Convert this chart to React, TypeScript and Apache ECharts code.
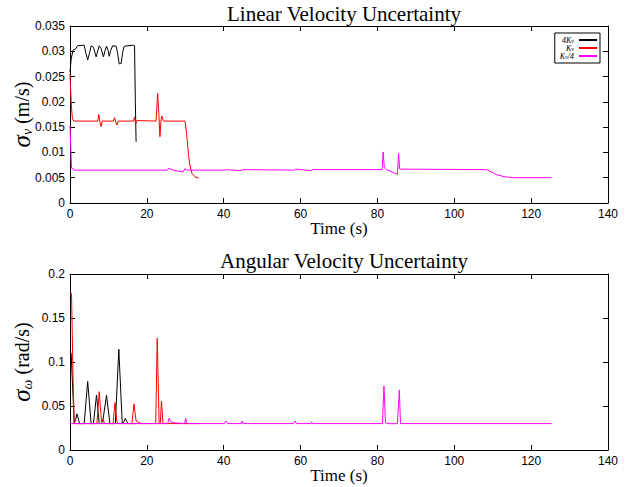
import React, { useEffect, useRef } from "react";
import * as echarts from "echarts";

const titles = ["Linear Velocity Uncertainty", "Angular Velocity Uncertainty"];
const seriesNames = ["4Kv", "Kv", "Kv/4"];
const seriesColors = ["#000000", "#ff0000", "#ff00ff"];

// Linear velocity uncertainty [time (s), sigma_v (m/s)]
const linBlack: number[][] = [
  [0, 0.0258], [0.3, 0.0285], [0.8, 0.0302], [1.5, 0.0305], [2.0, 0.0311], [3.7, 0.0312],
  [4.1, 0.0297], [4.6, 0.0283], [5.1, 0.0297], [5.5, 0.0311], [6.1, 0.0308], [6.8, 0.0289],
  [7.3, 0.0303], [7.6, 0.0311], [8.1, 0.0305], [8.7, 0.0289], [9.1, 0.0301], [9.5, 0.031],
  [9.9, 0.0302], [10.2, 0.029], [10.6, 0.0302], [11.1, 0.0311], [12.0, 0.031], [12.4, 0.0296],
  [12.8, 0.0275], [13.3, 0.0276], [13.7, 0.0298], [14.1, 0.031], [16.3, 0.0312], [16.8, 0.0311],
  [17.0, 0.02], [17.2, 0.0121],
];
const linRed: number[][] = [
  [0, 0.0255], [0.3, 0.02], [0.6, 0.0168], [1, 0.0162], [7.2, 0.0162], [7.5, 0.0175],
  [7.8, 0.016], [8.1, 0.0151], [8.4, 0.0162], [11.3, 0.0162], [11.6, 0.0169], [11.9, 0.016],
  [12.2, 0.0154], [12.5, 0.0162], [16.5, 0.0162], [16.8, 0.017], [17.1, 0.0156], [17.4, 0.0163],
  [22.4, 0.0162], [22.8, 0.0217], [23.1, 0.018], [23.4, 0.0131], [23.7, 0.0165], [23.9, 0.0172],
  [24.3, 0.0162], [29.9, 0.0162], [30.3, 0.014], [30.8, 0.0098], [31.2, 0.0075], [31.7, 0.0059],
  [32.5, 0.0052], [33.5, 0.0049],
];
const linMagenta: number[][] = [
  [0, 0.0152], [0.2, 0.011], [0.4, 0.0068], [0.7, 0.0069], [1, 0.0065], [25.3, 0.0065],
  [25.7, 0.0069], [26.3, 0.0066], [29.4, 0.0061], [29.9, 0.0068], [30.4, 0.0065], [40.3, 0.0065],
  [40.7, 0.0066], [44.5, 0.0064], [44.8, 0.0066], [58.4, 0.0065], [58.7, 0.0067], [62.8, 0.0064],
  [63.0, 0.0066], [81.2, 0.0066], [81.5, 0.0101], [81.8, 0.007], [82.3, 0.0066], [85.2, 0.0057],
  [85.5, 0.0098], [85.8, 0.0067], [108.4, 0.0066], [109.5, 0.0062], [111, 0.0056], [113, 0.0052],
  [115.5, 0.005], [125.3, 0.005],
];

// Angular velocity uncertainty [time (s), sigma_w (rad/s)]
const angBlack: number[][] = [
  [0, 0.112], [0.3, 0.11], [0.7, 0.07], [1.1, 0.03], [1.5, 0.035], [1.8, 0.041], [2.2, 0.035],
  [2.5, 0.03], [3.7, 0.03], [4.6, 0.078], [5.5, 0.03], [6.1, 0.03], [6.9, 0.0625], [7.6, 0.03],
  [8.2, 0.03], [8.6, 0.035], [9.5, 0.062], [10.4, 0.03], [11.8, 0.03], [12.7, 0.1145], [13.6, 0.03],
  [14.0, 0.032], [14.4, 0.036], [14.8, 0.032], [15.2, 0.03], [17.2, 0.03],
];
const angRed: number[][] = [
  [0, 0.178], [0.4, 0.178], [0.8, 0.08], [1.1, 0.03], [7.0, 0.03], [7.6, 0.0663], [8.2, 0.032],
  [8.6, 0.035], [9.0, 0.03], [11.2, 0.03], [11.7, 0.0538], [12.2, 0.032], [12.6, 0.03], [16.1, 0.03],
  [16.65, 0.0523], [17.2, 0.033], [18, 0.031], [18.5, 0.03], [22.3, 0.03], [22.7, 0.127], [23.2, 0.03],
  [23.5, 0.03], [23.8, 0.0557], [24.2, 0.03], [33.6, 0.03],
];
const angMagenta: number[][] = [
  [0, 0.031], [0.4, 0.03], [25.4, 0.03], [25.8, 0.036], [26.3, 0.032], [27, 0.031], [29.8, 0.03],
  [30.1, 0.036], [30.4, 0.03], [40.2, 0.03], [40.6, 0.033], [41, 0.03], [44.6, 0.03], [44.8, 0.033],
  [45, 0.03], [58.2, 0.03], [58.6, 0.033], [59, 0.03], [62.7, 0.03], [62.9, 0.032], [63.1, 0.03],
  [81.3, 0.03], [81.7, 0.0727], [82.1, 0.031], [83, 0.0299], [85.2, 0.0299], [85.7, 0.0682],
  [86.0, 0.03], [125.3, 0.03],
];

const xRange = { min: 0, max: 140, interval: 20 };
const yRangeLin = { min: 0, max: 0.035, interval: 0.005 };
const yRangeAng = { min: 0, max: 0.2, interval: 0.05 };
const xName = "Time (s)";
const yNameLin = "{g|σ}{s|v} (m/s)";
const yNameAng = "{g|σ}{s|ω} (rad/s)";
const legendLabels: Record<string, string> = {
  "4Kv": "{i|4K}{s|v}",
  Kv: "{i|K}{s|v}",
  "Kv/4": "{i|K}{s|v}{i|/4}",
};

const SERIF = "'Liberation Serif', 'DejaVu Serif', serif";
const SANS = "'Liberation Sans', Arial, sans-serif";

export default function App() {
  const ref = useRef<HTMLDivElement>(null);
  useEffect(() => {
    if (!ref.current) return;
    const chart = echarts.init(ref.current, undefined, { renderer: "svg" });
    const grids = [
      { left: 70, width: 538, top: 26, height: 177, containLabel: false, outerBoundsMode: "none" },
      { left: 70, width: 538, top: 274, height: 176, containLabel: false, outerBoundsMode: "none" },
    ];
    const tick = { show: true, inside: true, length: 5, lineStyle: { color: "#000", width: 1 } };
    const axisLine = { show: true, onZero: false, lineStyle: { color: "#000", width: 1 } };
    const xAxes: any[] = [];
    const yAxes: any[] = [];
    [0, 1].forEach((g) => {
      xAxes.push({
        type: "value", gridIndex: g, position: "bottom", ...xRange,
        axisLine, axisTick: tick, splitLine: { show: false },
        axisLabel: { color: "#000", fontFamily: SANS, fontSize: 12, margin: 5 },
        name: xName, nameLocation: "middle", nameGap: 17, nameMoveOverlap: false,
        nameTextStyle: { color: "#000", fontFamily: SERIF, fontSize: 17 },
      });
      xAxes.push({
        type: "value", gridIndex: g, position: "top", ...xRange,
        axisLine, axisTick: tick, splitLine: { show: false }, axisLabel: { show: false },
      });
      const yr = g === 0 ? yRangeLin : yRangeAng;
      yAxes.push({
        type: "value", gridIndex: g, position: "left", ...yr,
        axisLine, axisTick: tick, splitLine: { show: false },
        axisLabel: { color: "#000", fontFamily: SANS, fontSize: 12, margin: 5 },
        name: g === 0 ? yNameLin : yNameAng, nameLocation: "middle", nameGap: 36, nameRotate: 90,
        nameMoveOverlap: false,
        nameTextStyle: {
          color: "#000", fontFamily: SERIF, fontSize: 20,
          rich: {
            g: { fontFamily: SERIF, fontSize: 25, fontStyle: "italic", color: "#000" },
            s: { fontFamily: SERIF, fontSize: 14, fontStyle: "italic", color: "#000", verticalAlign: "bottom" },
          },
        },
      });
      yAxes.push({
        type: "value", gridIndex: g, position: "right", ...yr,
        axisLine, axisTick: tick, splitLine: { show: false }, axisLabel: { show: false },
      });
    });
    const mk = (name: string, color: string, data: number[][], g: number) => ({
      type: "line", name, data, xAxisIndex: g * 2, yAxisIndex: g * 2,
      symbol: "none", lineStyle: { color, width: 1 }, itemStyle: { color },
    });
    const lin = [linBlack, linRed, linMagenta];
    const ang = [angBlack, angRed, angMagenta];
    const series: any[] = [];
    lin.forEach((d, i) => series.push(mk(seriesNames[i], seriesColors[i], d, 0)));
    ang.forEach((d, i) => series.push(mk(seriesNames[i], seriesColors[i], d, 1)));

    chart.setOption({
      animation: false,
      backgroundColor: "#fff",
      title: [
        { text: titles[0], left: 339, textAlign: "center", top: -2,
          textStyle: { fontFamily: SERIF, fontSize: 21, fontWeight: "normal", color: "#000" } },
        { text: titles[1], left: 339, textAlign: "center", top: 245,
          textStyle: { fontFamily: SERIF, fontSize: 21, fontWeight: "normal", color: "#000" } },
      ],
      legend: {
        data: seriesNames, orient: "vertical", align: "right", right: 32, top: 33,
        icon: "rect", itemWidth: 18, itemHeight: 2, itemGap: 0, padding: [3, 3, 3, 5],
        backgroundColor: "#fff", borderColor: "#000", borderWidth: 1, borderRadius: 0,
        formatter: (n: string) => legendLabels[n] || n,
        textStyle: {
          color: "#000", fontFamily: SERIF, fontSize: 8, lineHeight: 8,
          rich: {
            i: { fontFamily: SERIF, fontSize: 8, fontStyle: "italic", color: "#000" },
            s: { fontFamily: SERIF, fontSize: 6, fontStyle: "italic", color: "#000", verticalAlign: "bottom" },
          },
        },
      },
      grid: grids,
      xAxis: xAxes,
      yAxis: yAxes,
      series,
    });
    return () => chart.dispose();
  }, []);
  return <div ref={ref} style={{ position: "fixed", left: 0, top: 0, width: 632, height: 487 }} />;
}
